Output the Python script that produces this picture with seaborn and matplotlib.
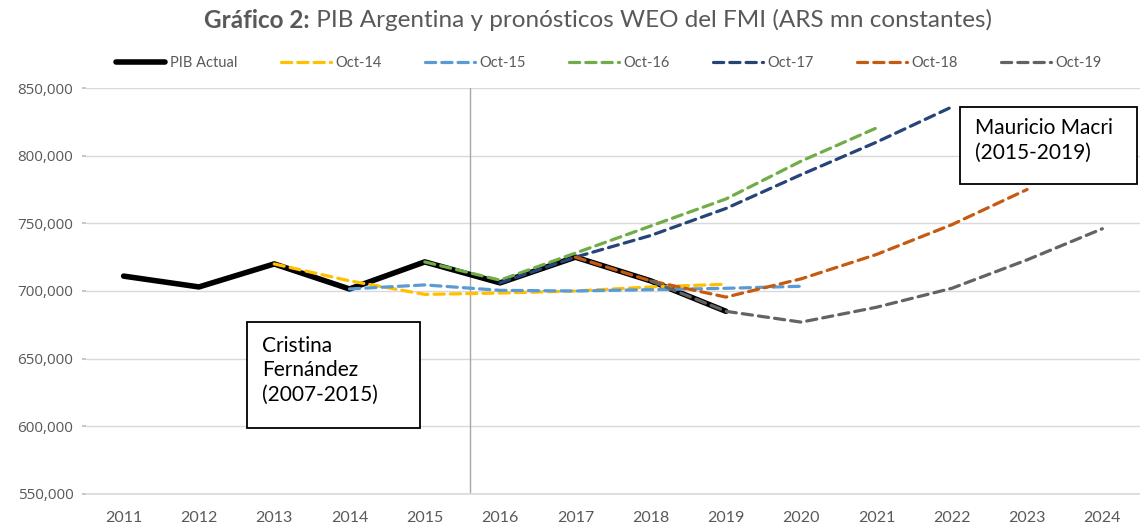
import matplotlib
matplotlib.use("Agg")
import matplotlib.pyplot as plt
import seaborn as sns
import pandas as pd
from matplotlib.ticker import FuncFormatter
from matplotlib.patches import Rectangle

# ---------------- data ----------------
years_all = list(range(2011, 2025))

pib_years = list(range(2011, 2020))
pib_actual = [711000, 703000, 720000, 701500, 721500, 706000, 725000, 707500, 685000]

oct14_years = list(range(2013, 2020))
oct14 = [720000, 707500, 697500, 698500, 700000, 703000, 705000]

oct15_years = list(range(2014, 2021))
oct15 = [701500, 704500, 700500, 700000, 701000, 702000, 703500]

oct16_years = list(range(2015, 2022))
oct16 = [721500, 708000, 728000, 748000, 768000, 796000, 820500]

oct17_years = list(range(2016, 2023))
oct17 = [706000, 725000, 741000, 761000, 786000, 810000, 836000]

oct18_years = list(range(2017, 2024))
oct18 = [725000, 707500, 695500, 709000, 727000, 749000, 775000]

oct19_years = list(range(2018, 2025))
oct19 = [707500, 685000, 677000, 688000, 702000, 723000, 746000]

series_labels = ["PIB Actual", "Oct-14", "Oct-15", "Oct-16", "Oct-17", "Oct-18", "Oct-19"]
y_ticks = [550000, 600000, 650000, 700000, 750000, 800000, 850000]
divider_year = 2015.6

title_bold = "Gráfico 2:"
title_rest = " PIB Argentina y pronósticos WEO del FMI (ARS mn constantes)"
box_cfk = "Cristina\nFernández\n(2007-2015)"
box_mm = "Mauricio Macri\n(2015-2019)"

# ---------------- style ----------------
sns.set_theme(style="white")
plt.rcParams['font.family'] = ['Lato', 'DejaVu Sans']
TXT = "#595959"

fig = plt.figure(figsize=(11.4, 5.25), dpi=100)
ax = fig.add_axes([86 / 1140, 31 / 525, 1 - 86 / 1140, (494 - 88) / 525])

data = [
    (pib_years, pib_actual, "#000000", None, 4.0),
    (oct14_years, oct14, "#FFC000", (3.2, 1.9), 2.3),
    (oct15_years, oct15, "#5B9BD5", (3.2, 1.9), 2.3),
    (oct16_years, oct16, "#70AD47", (3.2, 1.9), 2.3),
    (oct17_years, oct17, "#264478", (3.2, 1.9), 2.3),
    (oct18_years, oct18, "#C55A11", (3.2, 1.9), 2.3),
    (oct19_years, oct19, "#636363", (3.2, 1.9), 2.3),
]

handles = []
for (xs, ys, col, dash, lw), lab in zip(data, series_labels):
    df = pd.DataFrame({"year": xs, "value": ys})
    sns.lineplot(data=df, x="year", y="value", ax=ax, color=col, linewidth=lw,
                 label=lab, legend=False, solid_capstyle="round",
                 dash_capstyle="round", zorder=3)
    ln = ax.get_lines()[-1]
    if dash is not None:
        ln.set_dashes(dash)
    handles.append(ln)

ax.axvline(divider_year, color="#A6A6A6", linewidth=1.0, zorder=1)

ax.set_xlim(2010.5, 2024.5)
ax.set_ylim(550000, 850000)
ax.set_xticks(years_all)
ax.set_xticklabels([str(y) for y in years_all], fontsize=11.5, color=TXT)
ax.set_yticks(y_ticks)
ax.yaxis.set_major_formatter(FuncFormatter(lambda v, p: f"{int(v):,}"))
for t in ax.get_yticklabels():
    t.set_fontfamily(['Open Sans', 'DejaVu Sans'])
    t.set_fontsize(11)
    t.set_color(TXT)
ax.tick_params(axis="y", length=3, color="#BFBFBF", pad=6, left=True)
ax.tick_params(axis="x", length=0, pad=12)
ax.grid(axis="y", color="#D9D9D9", linewidth=1.0)
ax.grid(axis="x", visible=False)
for s in ["top", "right", "left"]:
    ax.spines[s].set_visible(False)
ax.spines["bottom"].set_color("#D9D9D9")
ax.spines["bottom"].set_linewidth(1.2)
ax.set_xlabel("")
ax.set_ylabel("")

# annotation boxes (text boxes of fixed size, in data coordinates)
ax.add_patch(Rectangle((2012.64, 598800), 2014.94 - 2012.64, 677100 - 598800,
                       facecolor="white", edgecolor="black", linewidth=1.3, zorder=5))
ax.text(2012.84, 667000, box_cfk, fontsize=15, color="#000000", va="top", ha="left",
        linespacing=1.3, zorder=6)
ax.add_patch(Rectangle((2022.11, 779100), 2024.46 - 2022.11, 836000 - 779100,
                       facecolor="white", edgecolor="black", linewidth=1.3, zorder=5))
ax.text(2022.31, 828000, box_mm, fontsize=15, color="#000000", va="top", ha="left",
        linespacing=1.3, zorder=6)

# legend
leg = fig.legend(handles=handles, labels=series_labels, loc="center",
                 bbox_to_anchor=(0.534, 1 - 63 / 525), ncol=7, frameon=False,
                 fontsize=10.5, handlelength=3.4, handletextpad=0.3,
                 columnspacing=3.0)
for t in leg.get_texts():
    t.set_color(TXT)

# title (bold part + regular part)
fig.canvas.draw()
r = fig.canvas.get_renderer()
t1 = fig.text(0, 0, title_bold, fontsize=17.5, fontweight="bold", color=TXT)
t2 = fig.text(0, 0, title_rest, fontsize=17.5, color=TXT)
w1 = t1.get_window_extent(r).width
w2 = t2.get_window_extent(r).width
total = w1 + w2
x0 = 598 - total / 2
ytitle = 1 - 20 / 525
t1.set_position((x0 / 1140, ytitle))
t1.set_va("center")
t2.set_position(((x0 + w1) / 1140, ytitle))
t2.set_va("center")

fig.savefig("out.png", dpi=100)
